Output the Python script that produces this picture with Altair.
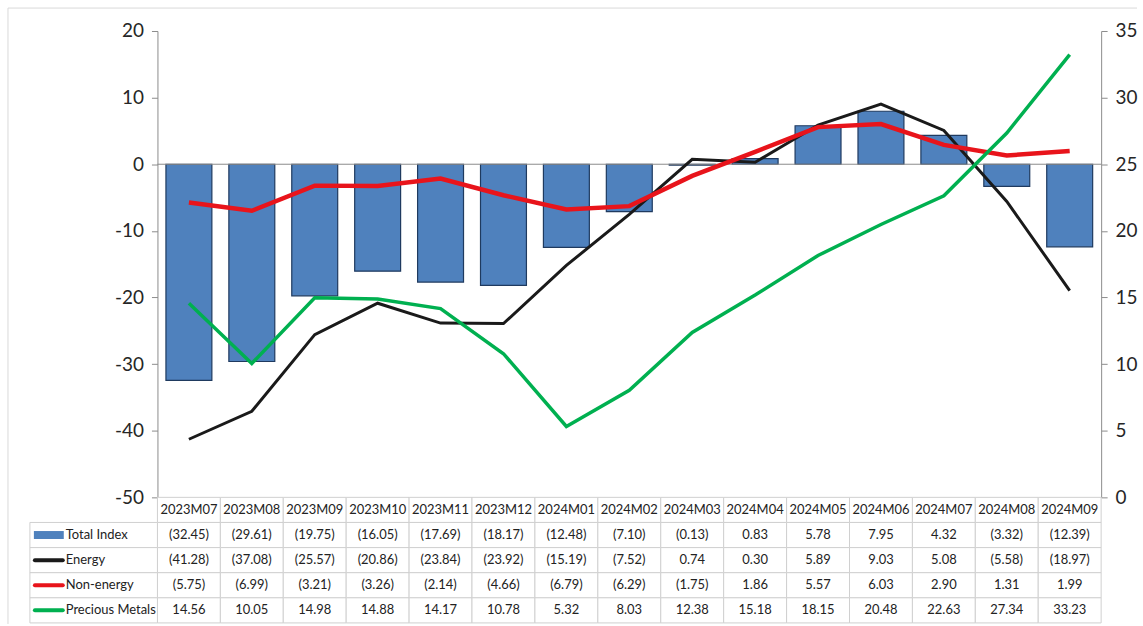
import altair as alt
import pandas as pd

months = ["2023M07", "2023M08", "2023M09", "2023M10", "2023M11", "2023M12",
          "2024M01", "2024M02", "2024M03", "2024M04", "2024M05", "2024M06",
          "2024M07", "2024M08", "2024M09"]
total_index = [-32.45, -29.61, -19.75, -16.05, -17.69, -18.17, -12.48, -7.10,
               -0.13, 0.83, 5.78, 7.95, 4.32, -3.32, -12.39]
energy = [-41.28, -37.08, -25.57, -20.86, -23.84, -23.92, -15.19, -7.52,
          0.74, 0.30, 5.89, 9.03, 5.08, -5.58, -18.97]
non_energy = [-5.75, -6.99, -3.21, -3.26, -2.14, -4.66, -6.79, -6.29,
              -1.75, 1.86, 5.57, 6.03, 2.90, 1.31, 1.99]
precious_metals = [14.56, 10.05, 14.98, 14.88, 14.17, 10.78, 5.32, 8.03,
                   12.38, 15.18, 18.15, 20.48, 22.63, 27.34, 33.23]

series_names = ["Total Index", "Energy", "Non-energy", "Precious Metals"]
series_colors = ["#4F81BD", "#1A1A1A", "#E8141B", "#00B050"]
left_ticks = [-50, -40, -30, -20, -10, 0, 10, 20]
right_ticks = [0, 5, 10, 15, 20, 25, 30, 35]

FONT = "Lato"
W, H, TH = 947, 468, 126

df = pd.DataFrame({"month": months, "total": total_index, "energy": energy,
                   "nonenergy": non_energy, "pm": precious_metals})

xs = alt.Scale(domain=months, paddingInner=0, paddingOuter=0)
X = alt.X("month:N", sort=months, scale=xs, axis=None)
yl_scale = alt.Scale(domain=[-50, 20], nice=False, zero=False)
yl_axis = alt.Axis(values=left_ticks, grid=False, labelFont=FONT, labelFontSize=19,
                   labelColor="#262626", domainColor="#8C8C8C", tickColor="#8C8C8C",
                   tickSize=6, labelPadding=8, labelExpr="datum.value")

bars = alt.Chart(df).mark_bar(width=alt.RelativeBandSize(0.73), color="#4F81BD",
                              stroke="#1F3A5F", strokeWidth=1.2).encode(
    x=X, y=alt.Y("total:Q", scale=yl_scale, axis=yl_axis, title=None))

zero = alt.Chart(pd.DataFrame({"z": [0]})).mark_rule(color="#8C8C8C", strokeWidth=1).encode(
    y=alt.Y("z:Q", scale=yl_scale, title=None))

en_line = alt.Chart(df).mark_line(color="#1A1A1A", strokeWidth=3).encode(
    x=X, y=alt.Y("energy:Q", scale=yl_scale, title=None))
ne_line = alt.Chart(df).mark_line(color="#E8141B", strokeWidth=4.5).encode(
    x=X, y=alt.Y("nonenergy:Q", scale=yl_scale, title=None))

one = pd.DataFrame({"a": [0]})
border_top = alt.Chart(one).mark_rule(color="#D9D9D9", strokeWidth=1).encode(
    x=alt.value(-150), x2=alt.value(983), y=alt.value(-23))
border_left = alt.Chart(one).mark_rule(color="#D9D9D9", strokeWidth=1).encode(
    x=alt.value(-150), y=alt.value(-23), y2=alt.value(595))

left = alt.layer(border_top, border_left, bars, zero, en_line, ne_line)

pm_line = alt.Chart(df).mark_line(color="#00B050", strokeWidth=3.5).encode(
    x=X,
    y=alt.Y("pm:Q", scale=alt.Scale(domain=[0, 35], nice=False, zero=False),
            axis=alt.Axis(orient="right", values=right_ticks, grid=False, labelFont=FONT,
                          labelFontSize=19, labelColor="#262626", domainColor="#8C8C8C",
                          tickColor="#8C8C8C", tickSize=6, labelPadding=8),
            title=None))

main = alt.layer(left, pm_line).resolve_scale(y="independent").properties(width=W, height=H)

# ---- data table ----
def fmt(v):
    return f"({abs(v):.2f})" if v < 0 else f"{v:.2f}"

rows = ["hdr"] + series_names
recs = []
for i, m in enumerate(months):
    recs.append({"month": m, "row": "hdr", "label": m})
    for name, vals in zip(series_names, [total_index, energy, non_energy, precious_metals]):
        recs.append({"month": m, "row": name, "label": fmt(vals[i])})
tab = pd.DataFrame(recs)
ys = alt.Scale(domain=rows, paddingInner=0, paddingOuter=0)
Y = alt.Y("row:N", scale=ys, axis=None)

cells = alt.Chart(tab).mark_rect(fill="white", stroke="#D0D0D0", strokeWidth=1).encode(x=X, y=Y)
cell_text = alt.Chart(tab).mark_text(font=FONT, fontSize=13, color="#222222").encode(
    x=X, y=Y, text="label:N")

lab = pd.DataFrame({"row": series_names, "col": series_colors})
label_cells = alt.Chart(lab).mark_rect(fill="white", stroke="#D0D0D0", strokeWidth=1).encode(
    x=alt.value(-128), x2=alt.value(0), y=Y)
sym_bar = alt.Chart(lab[lab.row == "Total Index"]).mark_rule(strokeWidth=8, color="#4F81BD",
                                                             strokeCap="butt").encode(
    x=alt.value(-124), x2=alt.value(-94), y=alt.Y("row:N", scale=ys, axis=None, bandPosition=0.5))
sym_line = alt.Chart(lab[lab.row != "Total Index"]).mark_rule(strokeWidth=4, strokeCap="round").encode(
    x=alt.value(-123), x2=alt.value(-95), y=alt.Y("row:N", scale=ys, axis=None, bandPosition=0.5),
    color=alt.Color("row:N", scale=alt.Scale(domain=series_names, range=series_colors), legend=None))
label_text = alt.Chart(lab).mark_text(font=FONT, fontSize=13, color="#222222", align="left").encode(
    x=alt.value(-92), y=Y, text="row:N")

table = alt.layer(cells, cell_text, label_cells, sym_bar, sym_line, label_text).properties(
    width=W, height=TH)

chart = alt.vconcat(main, table, spacing=0, bounds="flush").properties(
    padding={"left": 7, "top": 6, "right": 5, "bottom": 0}, background="white"
).configure_view(stroke=None)

chart.save("out.html", embed_options={"renderer": "svg", "actions": False})
